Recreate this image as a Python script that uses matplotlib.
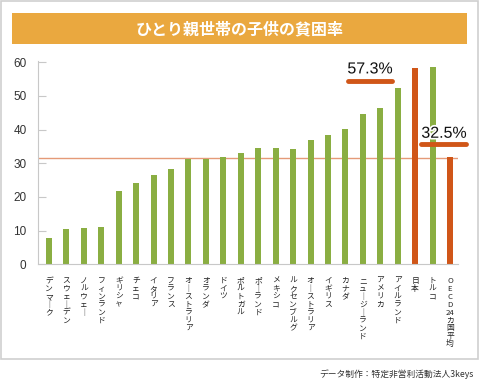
import matplotlib.pyplot as plt
import matplotlib.patheffects as pe
from matplotlib.patches import Rectangle
from matplotlib.lines import Line2D

plt.rcParams['font.family'] = ['Liberation Sans', 'Noto Sans CJK JP', 'DejaVu Sans']
JP = ['Noto Sans CJK JP', 'DejaVu Sans']

countries = ['デンマーク', 'スウェーデン', 'ノルウェー', 'フィンランド', 'ギリシャ', 'チェコ',
             'イタリア', 'フランス', 'オーストラリア', 'オランダ', 'ドイツ', 'ポルトガル',
             'ポーランド', 'メキシコ', 'ルクセンブルグ', 'オーストラリア', 'イギリス', 'カナダ',
             'ニュージーランド', 'アメリカ', 'アイルランド', '日本', 'トルコ', 'OECD 24カ国平均']
rates = [7.9, 10.5, 10.8, 11.1, 21.7, 24.2, 26.5, 28.4, 31.3, 31.3, 31.9, 33.0,
         34.5, 34.5, 34.2, 37.0, 38.4, 40.1, 44.7, 46.4, 52.3, 58.2, 58.6, 31.9]
highlight = ['日本', 'OECD 24カ国平均']
oecd_line = 31.7
callouts = ['57.3%', '32.5%']

green = '#8aae42'
orange = '#d05618'

fig = plt.figure(figsize=(4.8, 3.81), dpi=100)
W, H = 480, 381

def px(x, y, w, h):
    return [x / W, 1 - (y + h) / H, w / W, h / H]

# outer frame and title banner
fig.patches.append(Rectangle((1 / W, 1 - 359 / H), 477 / W, 358 / H, transform=fig.transFigure,
                             fill=False, edgecolor='#cfcfcf', linewidth=1.2))
fig.patches.append(Rectangle((12 / W, 1 - 44 / H), 455 / W, 31 / H, transform=fig.transFigure,
                             facecolor='#eaa83f', edgecolor='none'))
fig.text(240 / W, 1 - 29 / H, 'ひとり親世帯の子供の貧困率', color='white', fontsize=11.5,
         fontweight='bold', ha='center', va='center', family=JP)
fig.text(474 / W, 1 - 374 / H, 'データ制作：特定非営利活動法人3keys', fontsize=6.3,
         ha='right', va='center', family=JP, color='#333333')

ax = fig.add_axes(px(37.7, 60.5, 420.3, 203.8))
x = list(range(len(countries)))
colors = [orange if c in highlight else green for c in countries]
ax.bar(x, rates, width=0.345, color=colors, zorder=2)
ax.axhline(oecd_line, color='#e59a78', linewidth=1, zorder=1)

ax.set_xlim(-0.648, 23.46)
ax.set_ylim(0, 60.5)
ax.set_yticks(range(0, 61, 10))
ax.tick_params(axis='y', direction='in', length=6, width=0.8, color='#c8c8c8',
               labelsize=8.5, labelcolor='#333333', pad=8)
ax.set_xticks([])
for s in ['top', 'right']:
    ax.spines[s].set_visible(False)
ax.spines['left'].set_color('#c8c8c8')
ax.spines['bottom'].set_color('#c8c8c8')

# vertical (tategaki) country labels
for i, name in enumerate(countries):
    if name.startswith('OECD'):
        chars = ['O', 'E', 'C', 'D', '24', 'カ', '国', '平', '均']
    else:
        chars = ['｜' if ch == 'ー' else ch for ch in name]
    ax.text(i, -0.063, '\n'.join(chars), transform=ax.get_xaxis_transform(),
            ha='center', va='top', fontsize=5.6, linespacing=0.98, family=JP, color='#222222')

# hand-drawn style callouts
halo = [pe.withStroke(linewidth=2.5, foreground='white')]
ax.text(18.42, 58.0, callouts[0], ha='center', va='center', fontsize=11.5, color='#111111',
        path_effects=halo, zorder=5)
ax.add_line(Line2D([17.15, 19.65], [54.4, 54.4], color=orange, linewidth=3.5,
                   solid_capstyle='round', clip_on=False, zorder=4))
ax.text(22.66, 38.9, callouts[1], ha='center', va='center', fontsize=11.5, color='#111111',
        clip_on=False, path_effects=halo, zorder=5)
ax.add_line(Line2D([21.35, 23.9], [35.7, 35.7], color=orange, linewidth=3.5,
                   solid_capstyle='round', clip_on=False, zorder=4))

fig.savefig('out.png', dpi=100)
